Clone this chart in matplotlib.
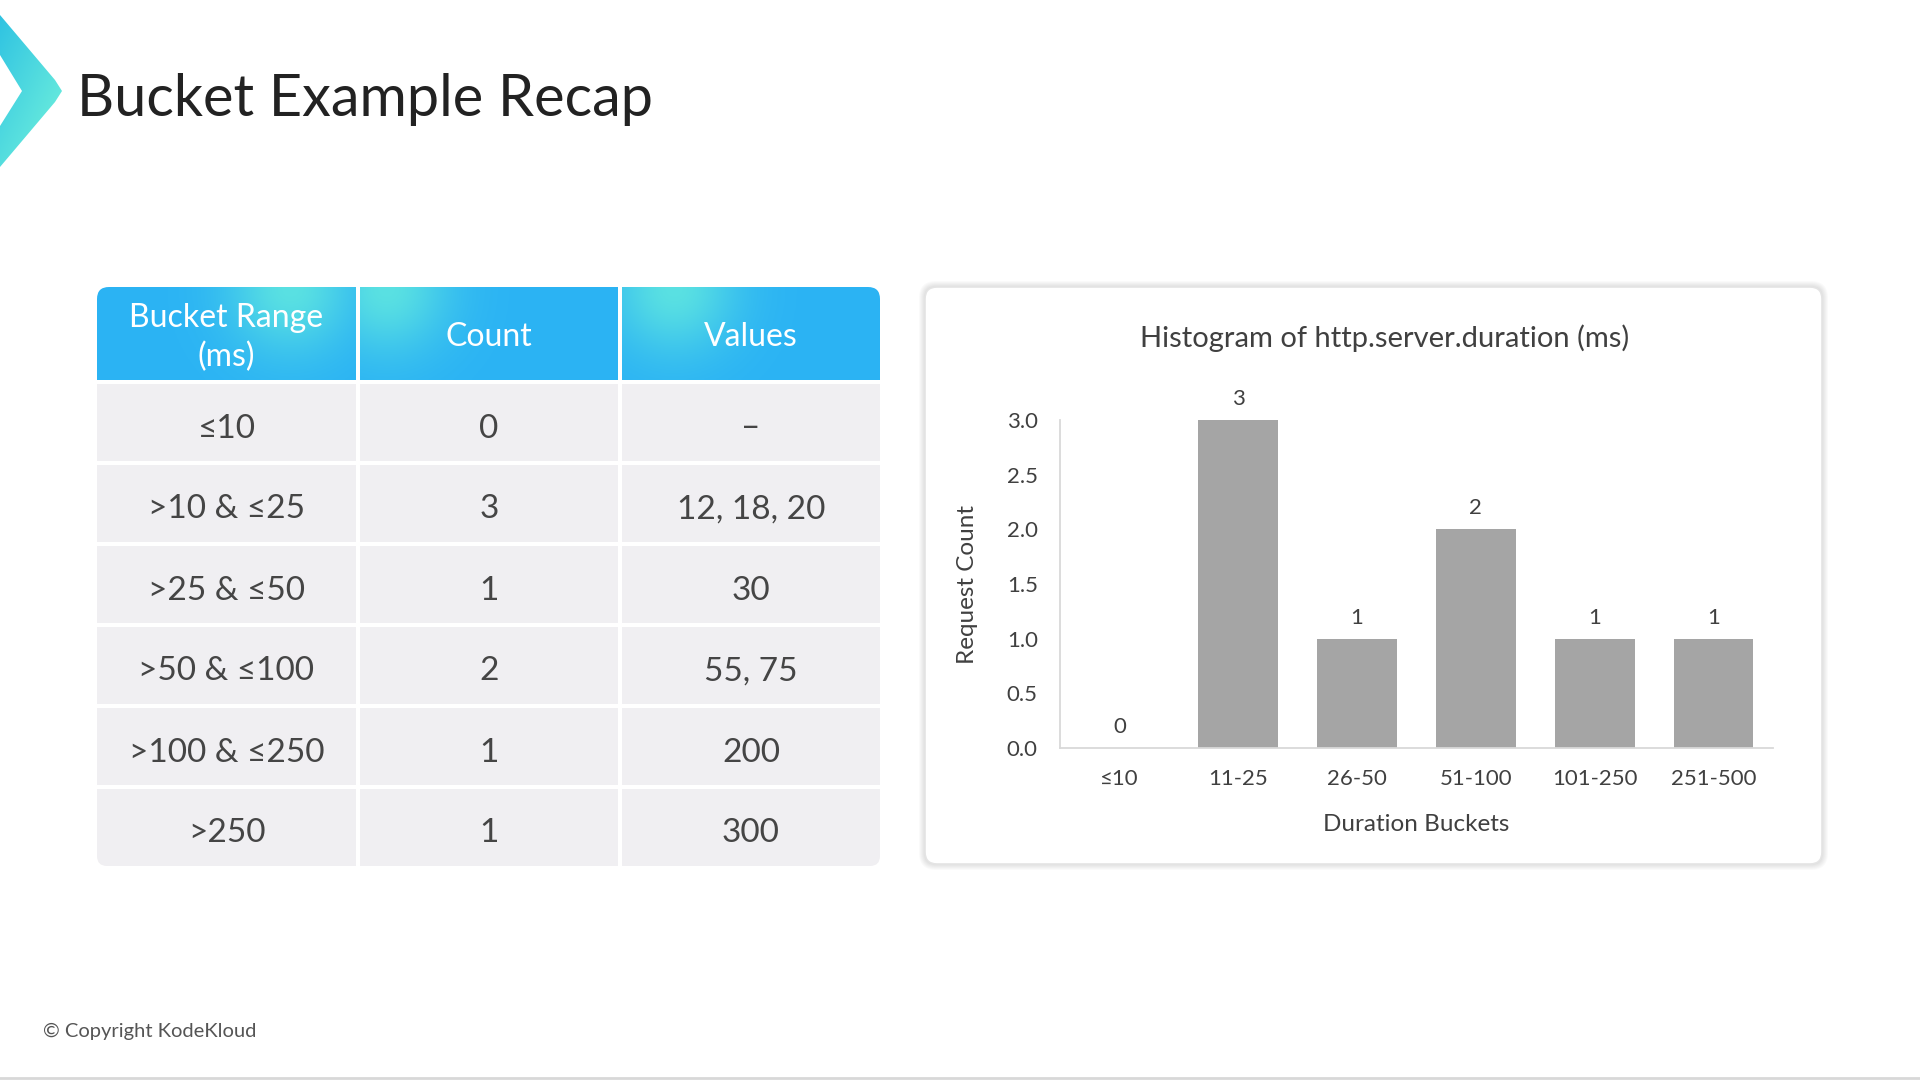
import numpy as np
import matplotlib
matplotlib.use("Agg")
import matplotlib.pyplot as plt
from matplotlib.patches import FancyBboxPatch, Rectangle, Polygon
from matplotlib.colors import to_rgb

plt.rcParams['font.family'] = ['Lato', 'DejaVu Sans']

# Data

title = "Bucket Example Recap"
headers = ["Bucket Range\n(ms)", "Count", "Values"]
bucket_ranges = ["≤10", ">10 & ≤25", ">25 & ≤50", ">50 & ≤100", ">100 & ≤250", ">250"]
counts = [0, 3, 1, 2, 1, 1]
values = ["–", "12, 18, 20", "30", "55, 75", "200", "300"]

chart_title = "Histogram of http.server.duration (ms)"
buckets = ["≤10", "11-25", "26-50", "51-100", "101-250", "251-500"]
request_counts = [0, 3, 1, 2, 1, 1]

# Figure, background axes in pixel coordinates

W, H = 1920, 1080
fig = plt.figure(figsize=(19.2, 10.8), dpi=100)
bg = fig.add_axes([0, 0, 1, 1])
bg.set_xlim(0, W)
bg.set_ylim(H, 0)
bg.axis("off")

blue = np.array(to_rgb("#2bb3f4"))
teal = np.array(to_rgb("#5fe6e0"))

# logo chevron
chev = Polygon([(0, 15), (55, 80), (62, 91), (55, 102), (0, 167),
                (0, 126), (22, 91), (0, 55)], closed=True,
               facecolor="none", edgecolor="none")
bg.add_patch(chev)
gy, gx = np.mgrid[0:1:100j, 0:1:60j]
gw = np.clip(0.6 * gy + 0.5 * gx, 0, 1)[..., None]
grad = (1 - gw) * np.array(to_rgb("#2fc3e2")) + gw * np.array(to_rgb("#6ff0dc"))
im = bg.imshow(grad, extent=(0, 62, 167, 15), aspect="auto", zorder=2)
im.set_clip_path(chev)

bg.text(77, 100, title, fontsize=41.5, color="#222222", va="center", ha="left")

# Table

col_x = [97, 360, 622]
col_w = [259, 258, 258]
head_top, head_h = 287, 93
row_top, row_h, gap = 384, 77, 4
table_bottom = row_top + len(bucket_ranges) * (row_h + gap) - gap

head_clip = FancyBboxPatch((97, head_top), 783, head_h + 30,
                           boxstyle="round,pad=0,rounding_size=12",
                           facecolor="none", edgecolor="none")
bg.add_patch(head_clip)
teal_pos = [0.75, 0.1, 0.2]
for j, h in enumerate(headers):
    yy, xx = np.mgrid[0:1:40j, 0:1:120j]
    w = np.exp(-((xx - teal_pos[j]) ** 2) / 0.06 - (yy ** 2) / 0.5) * 0.9
    img = (1 - w[..., None]) * blue + w[..., None] * teal
    im = bg.imshow(img, extent=(col_x[j], col_x[j] + col_w[j],
                                head_top + head_h, head_top),
                   aspect="auto", zorder=2)
    im.set_clip_path(head_clip)
    bg.text(col_x[j] + col_w[j] / 2, head_top + head_h / 2 + 4, h,
            fontsize=23, color="white", ha="center", va="center",
            linespacing=1.35, zorder=3)

body_clip = FancyBboxPatch((97, row_top - 30), 783, table_bottom - row_top + 30,
                           boxstyle="round,pad=0,rounding_size=10",
                           facecolor="none", edgecolor="none")
bg.add_patch(body_clip)
for i in range(len(bucket_ranges)):
    y0 = row_top + i * (row_h + gap)
    cells = [bucket_ranges[i], str(counts[i]), values[i]]
    for j in range(3):
        r = Rectangle((col_x[j], y0), col_w[j], row_h, facecolor="#f0eff2",
                      edgecolor="none", zorder=2)
        bg.add_patch(r)
        r.set_clip_path(body_clip)
        bg.text(col_x[j] + col_w[j] / 2, y0 + row_h / 2 + 6, cells[j],
                fontsize=24, color="#454545", ha="center", va="center", zorder=3)

# Chart card with soft shadow

cx0, cy0, cw, ch = 925, 287, 897, 577
for k in range(6):
    bg.add_patch(FancyBboxPatch((cx0 - k - 1, cy0 - k - 1), cw + 2 * k + 2, ch + 2 * k + 2,
                                boxstyle="round,pad=0,rounding_size=%d" % (12 + k),
                                facecolor="#000000", alpha=0.018, edgecolor="none", zorder=1))
bg.add_patch(FancyBboxPatch((cx0, cy0), cw, ch, boxstyle="round,pad=0,rounding_size=12",
                            facecolor="white", edgecolor="#e4e4e4", linewidth=1.2, zorder=2))
bg.text(1385, 338, chart_title, fontsize=21, color="#404040",
        ha="center", va="center", zorder=3)

bg.text(43, 1031, "© Copyright KodeKloud", fontsize=14.5, color="#555555",
        ha="left", va="center")
bg.plot([0, W], [1078, 1078], color="#d8d8d8", linewidth=2)

# Histogram axes

ax_l, ax_r, ax_t, ax_b = 1060, 1773, 420, 748
ax = fig.add_axes([ax_l / W, (H - ax_b) / H, (ax_r - ax_l) / W, (ax_b - ax_t) / H])
ax.patch.set_alpha(0)
x = np.arange(len(buckets))
bars = ax.bar(x, request_counts, width=0.67, color="#a5a5a5")
ax.bar_label(bars, labels=[str(c) for c in request_counts], padding=8,
             fontsize=16, color="#404040")
ax.set_xlim(-0.5, len(buckets) - 0.5)
ax.set_ylim(0, 3)
ax.set_yticks([0, 0.5, 1.0, 1.5, 2.0, 2.5, 3.0])
ax.set_yticklabels(["%.1f" % v for v in [0, 0.5, 1.0, 1.5, 2.0, 2.5, 3.0]])
ax.set_xticks(x)
ax.set_xticklabels(buckets)
ax.tick_params(length=0, labelsize=16, labelcolor="#404040")
ax.tick_params(axis="y", pad=16)
ax.tick_params(axis="x", pad=15)
for s in ["top", "right"]:
    ax.spines[s].set_visible(False)
for s in ["left", "bottom"]:
    ax.spines[s].set_color("#d9d9d9")
    ax.spines[s].set_linewidth(1.3)
ax.set_ylabel("Request Count", fontsize=17.5, color="#404040", labelpad=21)
ax.set_xlabel("Duration Buckets", fontsize=17.5, color="#404040", labelpad=18)

fig.savefig("out.png", dpi=100)
